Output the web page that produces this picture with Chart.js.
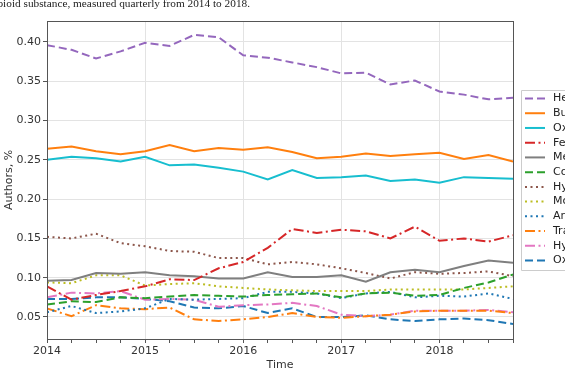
<!DOCTYPE html>
<html>
<head>
<meta charset="utf-8">
<script src="https://cdn.jsdelivr.net/npm/chart.js@4/dist/chart.umd.min.js"></script>
<style>
html,body{margin:0;padding:0;background:#fff;overflow:hidden;}
canvas{display:block;}
</style>
</head>
<body>
<canvas id="c" width="565" height="386"></canvas>
<script>
const titleText = "opioid substance, measured quarterly from 2014 to 2018.";
const quarters = [2014, 2014.25, 2014.5, 2014.75, 2015, 2015.25, 2015.5, 2015.75, 2016, 2016.25, 2016.5, 2016.75, 2017, 2017.25, 2017.5, 2017.75, 2018, 2018.25, 2018.5, 2018.75];
const yTicks = [0.05, 0.10, 0.15, 0.20, 0.25, 0.30, 0.35, 0.40];
const seriesNames = ["Heroin", "Buprenorphine", "Oxycodone", "Fentanyl", "Methadone", "Codeine", "Hydrocodone", "Morphine", "Anileridine", "Tramadol", "Hydromorphone", "Oxymorphone"];

const heroin        = [0.396, 0.390, 0.379, 0.388, 0.399, 0.395, 0.409, 0.406, 0.383, 0.380, 0.374, 0.368, 0.360, 0.361, 0.346, 0.351, 0.337, 0.333, 0.327, 0.329];
const buprenorphine = [0.264, 0.267, 0.261, 0.257, 0.261, 0.269, 0.261, 0.265, 0.263, 0.266, 0.260, 0.252, 0.254, 0.258, 0.255, 0.257, 0.259, 0.251, 0.256, 0.248];
const oxycodone     = [0.250, 0.254, 0.252, 0.248, 0.254, 0.243, 0.244, 0.240, 0.235, 0.225, 0.237, 0.227, 0.228, 0.230, 0.223, 0.225, 0.221, 0.228, 0.227, 0.226];
const fentanyl      = [0.089, 0.072, 0.078, 0.083, 0.089, 0.098, 0.097, 0.112, 0.120, 0.138, 0.162, 0.157, 0.161, 0.159, 0.150, 0.165, 0.147, 0.150, 0.146, 0.154];
const methadone     = [0.096, 0.097, 0.106, 0.105, 0.107, 0.103, 0.102, 0.099, 0.099, 0.107, 0.101, 0.101, 0.103, 0.095, 0.107, 0.110, 0.107, 0.115, 0.122, 0.119];
const codeine       = [0.066, 0.070, 0.069, 0.075, 0.074, 0.076, 0.078, 0.077, 0.076, 0.078, 0.079, 0.080, 0.075, 0.080, 0.081, 0.077, 0.078, 0.087, 0.094, 0.104];
const hydrocodone   = [0.152, 0.150, 0.156, 0.144, 0.140, 0.134, 0.133, 0.125, 0.125, 0.117, 0.120, 0.117, 0.112, 0.106, 0.099, 0.107, 0.105, 0.106, 0.108, 0.102];
const morphine      = [0.094, 0.093, 0.103, 0.103, 0.090, 0.092, 0.093, 0.089, 0.087, 0.085, 0.084, 0.083, 0.083, 0.083, 0.085, 0.085, 0.085, 0.085, 0.087, 0.089];
const anileridine   = [0.056, 0.064, 0.055, 0.057, 0.061, 0.073, 0.072, 0.073, 0.074, 0.082, 0.082, 0.080, 0.074, 0.080, 0.082, 0.075, 0.077, 0.076, 0.080, 0.073];
const tramadol      = [0.061, 0.051, 0.065, 0.061, 0.060, 0.062, 0.047, 0.045, 0.047, 0.050, 0.055, 0.050, 0.049, 0.051, 0.053, 0.057, 0.058, 0.058, 0.058, 0.055];
const hydromorphone = [0.075, 0.081, 0.080, 0.083, 0.072, 0.073, 0.072, 0.063, 0.065, 0.066, 0.068, 0.064, 0.053, 0.051, 0.053, 0.058, 0.058, 0.058, 0.059, 0.056];
const oxymorphone   = [0.073, 0.073, 0.075, 0.075, 0.073, 0.070, 0.062, 0.061, 0.064, 0.055, 0.061, 0.050, 0.050, 0.052, 0.047, 0.045, 0.047, 0.048, 0.046, 0.041];

const seriesValues = [heroin, buprenorphine, oxycodone, fentanyl, methadone, codeine, hydrocodone, morphine, anileridine, tramadol, hydromorphone, oxymorphone];
const colors = ["#9467bd", "#ff7f0e", "#17becf", "#d62728", "#7f7f7f", "#2ca02c", "#8c564b", "#bcbd22", "#1f77b4", "#ff7f0e", "#e377c2", "#1f77b4"];
const DASH = [8, 4], DOT = [2, 3.5], DASHDOT = [10, 3.5, 2, 3.5], SOLID = [];
const dashes = [DASH, SOLID, SOLID, DASHDOT, SOLID, DASH, DOT, DOT, DOT, DASHDOT, DASHDOT, DASH];

const datasets = seriesNames.map((name, i) => ({
  label: name,
  data: quarters.map((q, j) => ({x: q, y: seriesValues[i][j]})),
  borderColor: colors[i],
  backgroundColor: colors[i],
  borderDash: dashes[i],
  borderWidth: 2,
  pointRadius: 0,
  tension: 0,
  fill: false
}));

const framePlugin = {
  id: 'frame',
  afterDatasetsDraw(chart) {
    const {ctx, chartArea: a} = chart;
    ctx.save();
    ctx.strokeStyle = '#555';
    ctx.lineWidth = 1;
    ctx.strokeRect(a.left + 0.5, a.top + 0.5, a.right - a.left, a.bottom - a.top);
    ctx.restore();
  },
  afterDraw(chart) {
    const ctx = chart.ctx;
    ctx.save();
    // cropped title
    ctx.font = '11.3px "Liberation Serif", "DejaVu Serif", serif';
    ctx.fillStyle = '#222';
    ctx.textAlign = 'right';
    ctx.textBaseline = 'alphabetic';
    ctx.fillText(titleText, 250, 7);
    // legend
    const lx = 521, ly = 90, lh = 180;
    ctx.fillStyle = 'rgba(255,255,255,0.9)';
    ctx.strokeStyle = '#cccccc';
    ctx.lineWidth = 1;
    ctx.beginPath();
    ctx.rect(lx + 0.5, ly + 0.5, 120, lh);
    ctx.fill();
    ctx.stroke();
    ctx.font = '11px "DejaVu Sans"';
    ctx.textAlign = 'left';
    ctx.textBaseline = 'middle';
    seriesNames.forEach((name, i) => {
      const y = 98.5 + i * 14.73;
      ctx.strokeStyle = colors[i];
      ctx.lineWidth = 2;
      ctx.setLineDash(dashes[i]);
      ctx.beginPath();
      ctx.moveTo(525, y);
      ctx.lineTo(545, y);
      ctx.stroke();
      ctx.setLineDash([]);
      ctx.fillStyle = '#222';
      ctx.fillText(name, 553, y);
    });
    ctx.restore();
  }
};

Chart.defaults.font.family = '"DejaVu Sans"';
Chart.defaults.font.size = 11;
Chart.defaults.color = '#333';

new Chart(document.getElementById('c'), {
  type: 'line',
  data: {datasets},
  options: {
    responsive: false,
    animation: false,
    devicePixelRatio: 1,
    layout: {padding: {top: 21, right: 52, left: 0, bottom: 0}},
    plugins: {legend: {display: false}, tooltip: {enabled: false}, title: {display: false}},
    scales: {
      x: {
        type: 'linear',
        min: 2014,
        max: 2018.75,
        afterBuildTicks: s => { s.ticks = quarters.map(v => ({value: v})); },
        afterFit: s => { s.height = 47; },
        ticks: {
          autoSkip: false, maxRotation: 0, padding: 2, color: '#333',
          callback: v => (Math.abs(v - Math.round(v)) < 1e-6 ? String(Math.round(v)) : '')
        },
        grid: {
          color: c => (c.tick && Math.abs(c.tick.value - Math.round(c.tick.value)) < 1e-6) ? '#e3e3e3' : 'rgba(0,0,0,0)',
          tickColor: '#555',
          tickLength: 4,
          drawTicks: true
        },
        border: {display: true, color: '#555'},
        title: {display: true, text: 'Time', padding: {top: 0, bottom: 14}, color: '#333'}
      },
      y: {
        type: 'linear',
        min: 0.022,
        max: 0.4267,
        afterBuildTicks: s => { s.ticks = yTicks.map(v => ({value: v})); },
        afterFit: s => { s.width = 47; },
        ticks: {padding: 2, color: '#333', callback: v => v.toFixed(2)},
        grid: {color: '#e3e3e3', tickColor: '#555', tickLength: 4},
        border: {display: true, color: '#555'},
        title: {display: true, text: 'Authors, %', padding: {top: 3, bottom: 0}, color: '#333'}
      }
    }
  },
  plugins: [framePlugin]
});
</script>
</body>
</html>
